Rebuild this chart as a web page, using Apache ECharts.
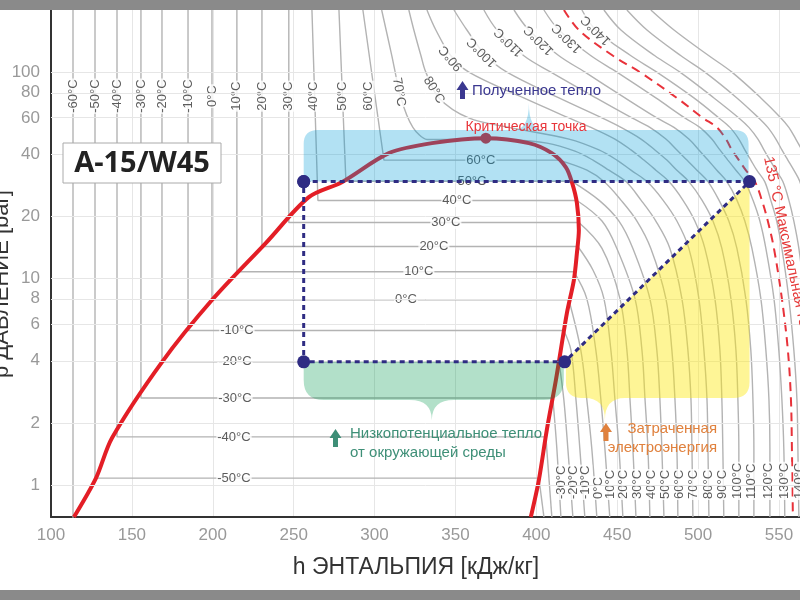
<!DOCTYPE html>
<html lang="ru">
<head>
<meta charset="utf-8">
<title>p-h диаграмма</title>
<script src="https://cdn.jsdelivr.net/npm/echarts@6.0.0/dist/echarts.min.js"></script>
<style>
  html, body { margin: 0; padding: 0; background: #fff; }
  #chart { width: 800px; height: 600px; }
</style>
</head>
<body>
<div id="chart"></div>
<script>
// ---- axis ticks ----
var pTicks = [1, 2, 4, 6, 8, 10, 20, 40, 60, 80, 100];

// ---- saturation dome (h kJ/kg, p bar) ----
var domeLiq = [[114.2, 0.70], [127.8, 1.08], [137.7, 1.69], [168.6, 3.94], [199.5, 7.87], [232.9, 14.9],
               [259.4, 24.8], [279.8, 29.3], [308.9, 40.5], [335.5, 45.3], [368.8, 47.9]];
var domeVap = [[368.8, 47.9], [395.4, 45.3], [409.6, 40.5], [418.3, 34.6], [422.0, 29.3], [425.1, 23.2],
               [426.3, 17.2], [425.1, 13.3], [423.2, 9.8], [418.9, 6.8], [412.1, 3.22], [406.5, 1.85],
               [401.6, 1.06], [396.6, 0.70]];
var critPoint = [368.8, 47.9];

// ---- subcritical isotherms: liquid line + two-phase line ----
var isoTemps = [-60, -50, -40, -30, -20, -10, 0, 10, 20, 30, 40, 50, 60];
var hLiqTop  = [113.6, 127.2, 140.8, 155.6, 168.6, 184.7, 199.5, 214.9, 230.4, 247.0, 261.3, 278.0, 292.8];
var hLiqSat  = [113.6, 127.2, 140.8, 155.6, 168.6, 184.7, 199.5, 214.9, 230.4, 247.0, 265.0, 282.3, 305.8];
var pSat     = [0.64, 1.08, 1.71, 2.64, 3.95, 5.6, 7.9, 10.8, 14.3, 18.7, 23.9, 29.6, 37.5];
var hVapSat  = [398.0, 401.6, 405.9, 410.2, 414.0, 417.0, 420.1, 423.2, 425.7, 426.3, 425.1, 422.0, 414.0];
var liq70    = [[304.4, 200], [310.7, 120], [316.3, 75], [323.7, 54], [332.4, 47.2], [382.0, 47.2]];

// ---- superheated vapour branches ----
var vapM50 = [[401.6, 1.08], [404.7, 0.7]];
var vapM40 = [[405.9, 1.71], [409.6, 0.7]];
var vapM30 = [[410.2, 2.64], [412.7, 1.5], [415.2, 0.7]];
var vapM20 = [[414.0, 3.95], [417.0, 2.6], [419.5, 1.5], [422.6, 0.7]];
var vapM10 = [[417.0, 5.6], [421.4, 4.5], [424.5, 2.6], [426.9, 1.5], [430.0, 0.7]];
var vap0   = [[420.1, 7.9], [427.5, 4.5], [431.2, 2.6], [434.3, 1.5], [437.4, 0.7]];
var vap10  = [[423.2, 10.8], [431.2, 8], [436.8, 4.5], [439.9, 2.6], [442.4, 1.5], [445.4, 0.7]];
var vap20  = [[425.7, 14.3], [435.0, 11], [441.8, 8], [446.1, 4.5], [448.6, 2.6], [451.1, 1.5], [453.5, 0.7]];
var vap30  = [[426.3, 18.7], [440.6, 14], [451.7, 8], [456.0, 4.5], [457.9, 2.6], [459.7, 1.5], [461.6, 0.7]];
var vap40  = [[425.1, 23.9], [440.6, 19], [449.8, 14], [461.0, 8], [465.3, 4.5], [467.2, 2.6], [469.0, 1.5], [470.2, 0.7]];
var vap50  = [[422.0, 29.6], [438.7, 24], [451.1, 19], [459.7, 14], [470.2, 8], [474.5, 4.5], [476.4, 2.6], [477.6, 1.5], [478.9, 0.7]];
var vap60  = [[414.0, 37.5], [431.3, 33.5], [441.8, 29.5], [452.3, 24], [462.2, 19], [470.8, 14], [480.1, 8], [483.8, 4.5],
              [485.7, 2.6], [486.9, 1.5], [487.5, 0.7]];
var vap70  = [[382.0, 47.2], [406.6, 45.3], [423.9, 41.4], [435.0, 37.5], [444.9, 33.5], [455.4, 29.5], [464.7, 24],
              [473.9, 19], [482.6, 14], [490.0, 8], [493.7, 4.5], [495.6, 2.6], [496.2, 1.5], [496.8, 0.7]];

// ---- supercritical isotherms, h read at these pressures ----
var pLevels = [200, 160, 120, 100, 75, 60, 54, 47.4, 42, 37.5, 33.5, 29.5, 24, 19, 14, 8, 4.5, 2.6, 1.5, 0.7];
var h80  = [321.2, 324.3, 328.7, 331.7, 339.8, 358.2, 383.0, 420.2, 438.7, 449.8, 458.5, 468.4, 478.3, 486.9, 494.3, 500.5, 503.6, 505.5, 506.1, 506.7];
var h90  = [332.4, 337.9, 347.2, 358.3, 392.2, 420.2, 433.8, 448.6, 458.5, 466.5, 473.9, 482.0, 490.6, 498.0, 504.2, 510.4, 513.5, 514.7, 515.3, 515.9];
var h100 = [349.1, 357.1, 368.9, 381.8, 414.0, 440.6, 452.3, 464.7, 473.3, 480.7, 486.9, 494.3, 502.4, 509.2, 514.7, 520.3, 523.4, 524.6, 525.2, 525.2];
var h110 = [367.6, 375.7, 392.3, 409.0, 436.9, 459.1, 470.2, 480.1, 486.9, 493.1, 499.3, 506.1, 512.9, 519.0, 524.0, 529.5, 532.6, 533.9, 534.5, 534.5];
var h120 = [386.2, 395.4, 414.0, 430.1, 454.8, 474.5, 485.1, 494.3, 500.5, 506.1, 511.6, 517.8, 524.0, 528.9, 533.3, 538.8, 541.9, 543.8, 544.4, 544.4];
var h130 = [404.7, 414.0, 433.8, 449.8, 473.9, 491.8, 501.1, 508.5, 513.5, 518.4, 523.4, 528.9, 533.9, 538.2, 541.9, 546.9, 549.9, 551.8, 553.0, 553.6];
var h135 = [417.1, 426.3, 447.4, 464.0, 486.9, 503.0, 511.6, 517.2, 520.9, 525.2, 529.5, 535.1, 539.4, 543.1, 546.9, 551.8, 555.5, 557.4, 558.0, 558.6];
var h140 = [428.2, 436.8, 458.5, 474.5, 497.4, 512.9, 519.7, 525.2, 528.9, 532.6, 536.3, 541.2, 544.9, 548.6, 551.8, 556.1, 559.2, 561.1, 561.7, 562.3];
var h150 = [441.8, 452.3, 473.3, 488.8, 509.8, 525.2, 531.4, 537.0, 540.7, 544.4, 548.1, 552.4, 556.1, 559.2, 562.3, 566.0, 568.4, 569.7, 570.3, 570.9];
var h160 = [456.0, 468.4, 489.4, 504.2, 524.0, 537.5, 543.1, 548.1, 551.8, 555.5, 559.2, 562.9, 566.0, 569.1, 572.2, 575.9, 578.0, 580.0, 581.0, 582.0];
var h170 = [470.8, 485.1, 506.7, 520.9, 538.8, 551.2, 556.1, 560.4, 564.1, 567.0, 570.0, 573.0, 576.0, 579.0, 582.0, 585.0, 587.0, 588.0, 589.0, 590.0];

// ---- heat pump cycle A-15/W45 ----
var cycle = [[256.2, 29.5], [531.8, 29.5], [417.5, 3.95], [256.2, 3.95], [256.2, 29.5]];
var heatBox = [256.2, 29.5, 531.2, 52.4];   // h1, p low, h2, p high
var heatBrace = [395.4, 70.8];
var envBox = [256.2, 2.58, 417.0, 3.95];
var envBrace = [335.4, 2.06];
var workDiag = [[417.5, 3.95], [531.8, 29.5]];
var workLeftH = 418.3, workBotP = 2.64;
var workBrace = [442.4, 2.06];

// ---- isotherm labels ----
var lblTopH = [113.6, 127.2, 140.8, 155.6, 168.6, 184.7, 199.5, 214.9, 230.4, 247.0, 262.0, 280.0, 296.0];
var lblTopP = 76.5;
var lblMidT = [-50, -40, -30, -20, -10, 0, 10, 20, 30, 40, 50, 60];
var lblMidH = [213.1, 213.1, 213.7, 213.7, 214.9, 319.4, 327.4, 336.7, 344.1, 350.9, 360.2, 365.7];
var lblMidP = [1.08, 1.71, 2.64, 3.95, 5.6, 7.9, 10.8, 14.3, 18.7, 23.9, 29.6, 37.5];
var lblBotT = [-30, -20, -10, 0, 10, 20, 30, 40, 50, 60, 70, 80, 90, 100, 110, 120, 130, 140];
var lblBotH = [415.8, 423.2, 430.6, 438.7, 446.1, 454.1, 462.8, 471.4, 480.1, 488.7, 497.4, 506.6, 515.3, 524.6, 533.2, 543.7, 553.6, 562.9];
var lblBotP = 0.846;
var lblRotT = [70, 80, 90, 100, 110, 120, 130, 140];
var lblRotH = [315.1, 336.7, 347.2, 366.3, 383.0, 401.6, 418.9, 436.8];
var lblRotP = [80, 81.8, 116.9, 125, 139.7, 142.9, 146.2, 159.7];
var lblRotA = [-80, -58, 130, 135, 135, 135, 135, 135];

var FONT = '"Liberation Sans", Arial, sans-serif';
var lg = function (v) { return Math.log10(v); };
var xy = function (pts) { return pts.map(function (q) { return [q[0], lg(q[1])]; }); };
var atLevels = function (hs) { return hs.map(function (h, k) { return [h, pLevels[k]]; }); };

function iso(pts, smooth) {
    return {
        type: 'line', data: xy(pts), symbol: 'none', smooth: smooth || 0, silent: true, z: 2,
        lineStyle: { color: '#b3b3b3', width: 1.4 }
    };
}

var series = [];

// horizontal grid lines
series.push({
    type: 'line', data: [[100, 0]], symbol: 'none', silent: true, z: 1,
    markLine: {
        silent: true, symbol: 'none', label: { show: false },
        lineStyle: { color: '#e6e6e6', width: 1, type: 'solid' },
        data: pTicks.map(function (v) { return { yAxis: lg(v) }; })
    }
});

isoTemps.forEach(function (t, i) {
    series.push(iso([[hLiqTop[i], 200], [hLiqSat[i], pSat[i]], [hVapSat[i], pSat[i]]], 0));
});
series.push(iso(liq70, 0.25));
[vapM50, vapM40, vapM30, vapM20, vapM10, vap0, vap10, vap20, vap30, vap40, vap50, vap60, vap70].forEach(function (a) {
    series.push(iso(a, 0.35));
});
[h80, h90, h100, h110, h120, h130, h140, h150, h160, h170].forEach(function (hs) {
    series.push(iso(atLevels(hs), 0.35));
});

// 135 °C limit
series.push({
    type: 'line', data: xy(atLevels(h135)), symbol: 'none', smooth: 0.35, silent: true, z: 3,
    lineStyle: { color: '#e8323a', width: 2, type: [9, 6] }
});

// saturation dome
series.push({
    type: 'line', data: xy(domeLiq.concat(domeVap.slice(1))), symbol: 'none', smooth: 0.3, silent: true, z: 3,
    lineStyle: { color: '#e31e26', width: 4 }
});
series.push({
    type: 'scatter', data: xy([critPoint]), symbolSize: 11, silent: true, z: 4,
    itemStyle: { color: '#d9242b', opacity: 1 }
});

// isotherm labels
function lbl(h, p, text, rot, extra) {
    var l = { formatter: text, rotate: rot };
    if (extra) for (var k in extra) l[k] = extra[k];
    return { value: [h, lg(p)], label: l };
}
var lblData = [];
isoTemps.forEach(function (t, i) { lblData.push(lbl(lblTopH[i], lblTopP, t + '°C', 90)); });
lblMidT.forEach(function (t, i) { lblData.push(lbl(lblMidH[i], lblMidP[i], t + '°C', 0)); });
lblBotT.forEach(function (t, i) { lblData.push(lbl(lblBotH[i], lblBotP, t + '°C', 90, { align: 'left' })); });
lblRotT.forEach(function (t, i) { lblData.push(lbl(lblRotH[i], lblRotP[i], t + '°C', lblRotA[i])); });
series.push({
    type: 'scatter', data: lblData, symbolSize: 1, silent: true, z: 4,
    itemStyle: { color: 'transparent' },
    label: {
        show: true, position: 'inside', color: '#333', fontSize: 13, fontFamily: FONT,
        backgroundColor: '#fff', padding: [0, 1]
    }
});

// shaded areas
function P(api, h, p) { return api.coord([h, lg(p)]); }
function pathHeat(api) {
    var a = P(api, heatBox[0], heatBox[3]), b = P(api, heatBox[2], heatBox[1]), t = P(api, heatBrace[0], heatBrace[1]);
    var x1 = a[0], y1 = a[1], x2 = b[0], y2 = b[1], bx = t[0], by = t[1], r = 14, w = 15;
    return 'M' + x1 + ' ' + y2 + 'L' + x1 + ' ' + (y1 + r) + 'Q' + x1 + ' ' + y1 + ' ' + (x1 + r) + ' ' + y1 +
        'L' + (bx - w) + ' ' + y1 + 'Q' + bx + ' ' + y1 + ' ' + bx + ' ' + by + 'Q' + bx + ' ' + y1 + ' ' + (bx + w) + ' ' + y1 +
        'L' + (x2 - r) + ' ' + y1 + 'Q' + x2 + ' ' + y1 + ' ' + x2 + ' ' + (y1 + r) + 'L' + x2 + ' ' + y2 + 'Z';
}
function pathEnv(api) {
    var a = P(api, envBox[0], envBox[3]), b = P(api, envBox[2], envBox[1]), t = P(api, envBrace[0], envBrace[1]);
    var x1 = a[0], y1 = a[1], x2 = b[0], y2 = b[1], bx = t[0], by = t[1], r = 20, w = 22;
    return 'M' + x1 + ' ' + y1 + 'L' + x2 + ' ' + y1 + 'L' + x2 + ' ' + (y2 - r) + 'Q' + x2 + ' ' + y2 + ' ' + (x2 - r) + ' ' + y2 +
        'L' + (bx + w) + ' ' + y2 + 'Q' + bx + ' ' + y2 + ' ' + bx + ' ' + by + 'Q' + bx + ' ' + y2 + ' ' + (bx - w) + ' ' + y2 +
        'L' + (x1 + r) + ' ' + y2 + 'Q' + x1 + ' ' + y2 + ' ' + x1 + ' ' + (y2 - r) + 'Z';
}
function pathWork(api) {
    var d1 = P(api, workDiag[0][0], workDiag[0][1]), d2 = P(api, workDiag[1][0], workDiag[1][1]);
    var xl = P(api, workLeftH, workBotP)[0], yb = P(api, workLeftH, workBotP)[1], t = P(api, workBrace[0], workBrace[1]);
    var x2 = d2[0], bx = t[0], by = t[1], r = 16, w = 20;
    return 'M' + d1[0] + ' ' + d1[1] + 'L' + x2 + ' ' + d2[1] + 'L' + x2 + ' ' + (yb - r) + 'Q' + x2 + ' ' + yb + ' ' + (x2 - r) + ' ' + yb +
        'L' + (bx + w) + ' ' + yb + 'Q' + bx + ' ' + yb + ' ' + bx + ' ' + by + 'Q' + bx + ' ' + yb + ' ' + (bx - w) + ' ' + yb +
        'L' + (xl + r) + ' ' + yb + 'Q' + xl + ' ' + yb + ' ' + xl + ' ' + (yb - r) + 'L' + xl + ' ' + d1[1] + 'Z';
}
series.push({
    type: 'custom', silent: true, z: 5,
    data: [[heatBox[0], lg(heatBox[1])], [envBox[0], lg(envBox[1])], [workLeftH, lg(workBotP)]],
    renderItem: function (params, api) {
        var i = params.dataIndex;
        var d = i === 0 ? pathHeat(api) : i === 1 ? pathEnv(api) : pathWork(api);
        var fill = ['rgba(0,155,215,0.3)', 'rgba(0,152,75,0.3)', 'rgba(253,233,22,0.45)'][i];
        return { type: 'path', shape: { pathData: d }, style: { fill: fill } };
    }
});

// cycle
series.push({
    type: 'line', data: xy(cycle), symbol: 'circle', symbolSize: 13, showSymbol: true, silent: true, z: 6,
    itemStyle: { color: '#2f2c83' },
    lineStyle: { color: '#2f2c83', width: 3, type: [5, 4] }
});

function arrow(cx, top, color) {
    return {
        type: 'polygon', z: 100, silent: true,
        shape: { points: [[cx, top], [cx + 6, top + 9], [cx + 2.5, top + 9], [cx + 2.5, top + 18], [cx - 2.5, top + 18], [cx - 2.5, top + 9], [cx - 6, top + 9]] },
        style: { fill: color }
    };
}
function txt(x, y, text, color, size, align, extra) {
    var e = {
        type: 'text', x: x, y: y, z: 100, silent: true,
        style: { text: text, fill: color, font: size + 'px ' + FONT, textAlign: align, align: align, textVerticalAlign: 'middle', verticalAlign: 'middle' }
    };
    if (extra) for (var k in extra) e[k] = extra[k];
    return e;
}

var chart = echarts.init(document.getElementById('chart'));
chart.setOption({
    animation: false,
    backgroundColor: '#fff',
    grid: { left: 51, right: 0, top: 10, bottom: 83, containLabel: false, outerBoundsMode: 'none' },
    xAxis: {
        type: 'value', min: 100, max: 563, interval: 50,
        axisLine: { show: true, onZero: false, lineStyle: { color: '#333', width: 2 } },
        axisTick: { show: false },
        axisLabel: { color: '#999', fontSize: 17, fontFamily: FONT, margin: 10, showMaxLabel: false },
        splitLine: { show: true, lineStyle: { color: '#e6e6e6', width: 1 } }
    },
    yAxis: {
        type: 'value', min: lg(0.7), max: lg(200),
        axisLine: { show: true, onZero: false, lineStyle: { color: '#333', width: 2 } },
        axisTick: { show: false, customValues: pTicks.map(lg) },
        axisLabel: {
            color: '#999', fontSize: 17, fontFamily: FONT, margin: 11,
            customValues: pTicks.map(lg),
            formatter: function (v) { return String(Math.round(Math.pow(10, v))); }
        },
        splitLine: { show: false }
    },
    series: series,
    graphic: [
        { type: 'rect', z: 100, silent: true, shape: { x: 0, y: 0, width: 800, height: 10 }, style: { fill: '#8a8a8a' } },
        { type: 'rect', z: 100, silent: true, shape: { x: 0, y: 590, width: 800, height: 10 }, style: { fill: '#8a8a8a' } },
        { type: 'rect', z: 100, silent: true, shape: { x: 63, y: 143, width: 158, height: 40 }, style: { fill: '#fff', stroke: '#aaa', lineWidth: 1 } },
        txt(142, 164, 'A-15/W45', '#222', 29, 'center', { style: { text: 'A-15/W45', fill: '#222', font: 'bold 29px "Open Sans", ' + FONT, textAlign: 'center', align: 'center', textVerticalAlign: 'middle', verticalAlign: 'middle' } }),
        arrow(462.5, 81, '#3b3890'),
        txt(472, 91, 'Полученное тепло', '#3b3890', 15, 'left'),
        txt(526, 127, 'Критическая точка', '#e8353a', 14, 'center'),
        arrow(335.5, 429, '#3e8f77'),
        txt(350, 434, 'Низкопотенциальное тепло', '#3e8f77', 15, 'left'),
        txt(350, 453, 'от окружающей среды', '#3e8f77', 15, 'left'),
        arrow(606, 423, '#e0813d'),
        txt(717, 429, 'Затраченная', '#e0813d', 15, 'right'),
        txt(717, 448, 'электроэнергия', '#e0813d', 15, 'right'),
        txt(768, 157, '135 °C Максимальная температура', '#e53a3a', 15, 'left', { rotation: -78 * Math.PI / 180 }),
        txt(2, 284, 'p ДАВЛЕНИЕ [bar]', '#333', 22, 'center', { rotation: Math.PI / 2 }),
        txt(416, 568, 'h ЭНТАЛЬПИЯ [кДж/кг]', '#333', 23, 'center')
    ]
});
</script>
</body>
</html>
